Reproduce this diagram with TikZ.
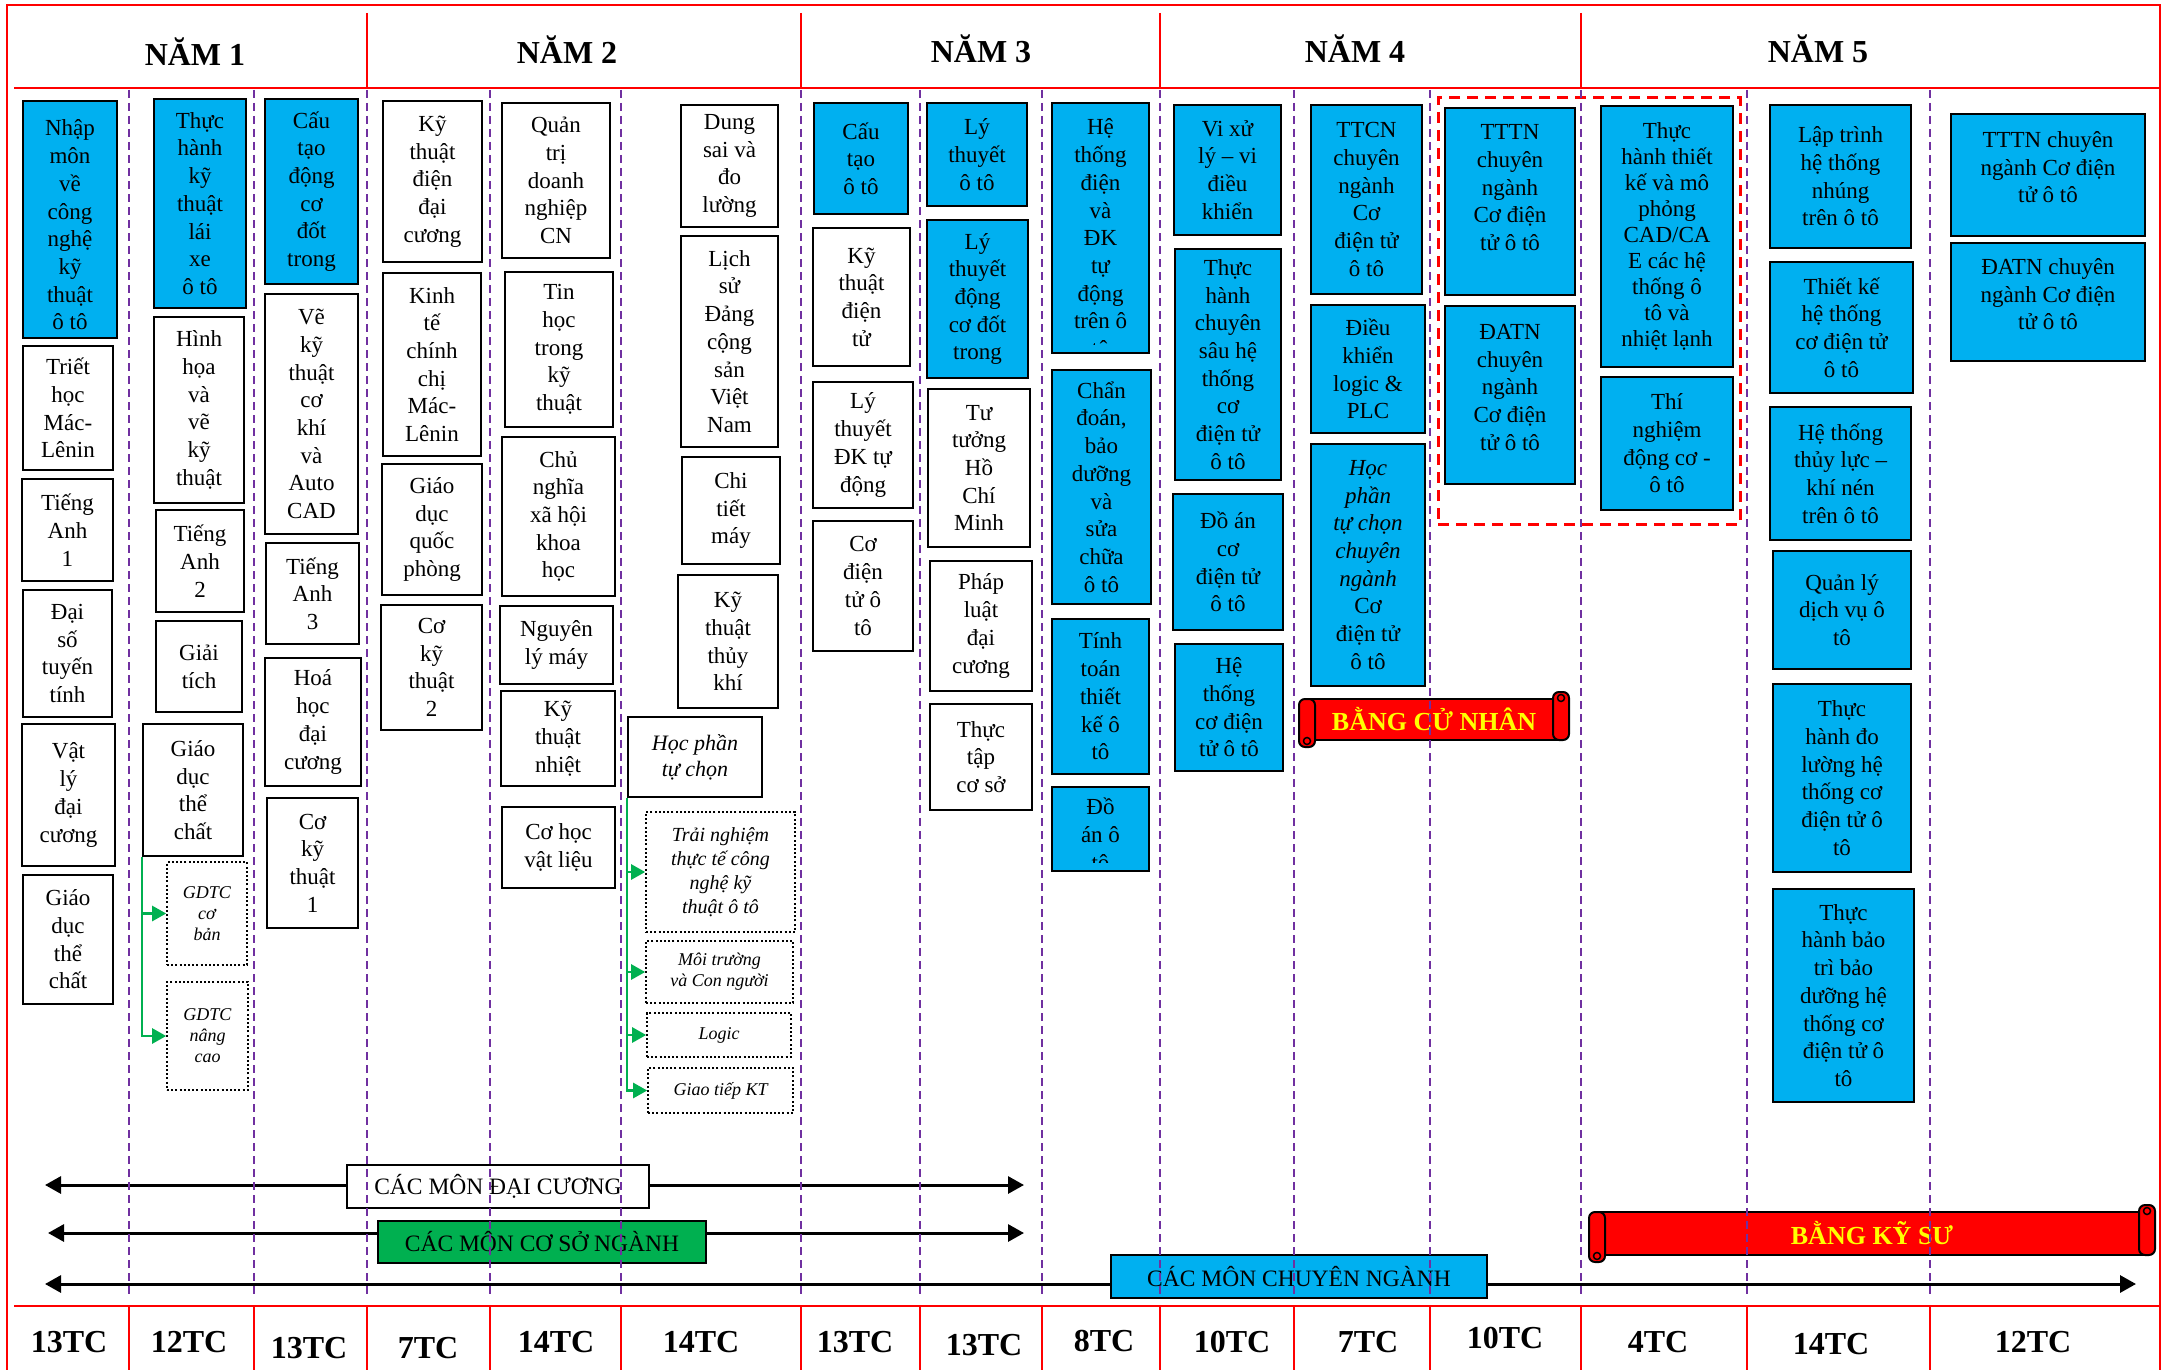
\documentclass[tikz,border=0pt]{standalone}
\usepackage{fontspec}
\setmainfont{Liberation Serif}
\usetikzlibrary{arrows.meta,calc}
\definecolor{cblue}{HTML}{00B0F0}
\definecolor{cgreen}{HTML}{00B050}
\definecolor{cpurple}{HTML}{7030A0}
\definecolor{cred}{HTML}{FF0000}
\definecolor{cyel}{HTML}{FFFF00}
\newcommand{\bx}[7]{\node[#6, minimum width={(#4)-(#2)}, minimum height={(#5)-(#3)}] (#1) at ({((#2)+(#4))/2},{((#3)+(#5))/2}) {#7};}
\newcommand{\cbx}[8]{%
  \node[#6, minimum width={(#4)-(#2)}, minimum height={(#5)-(#3)}] (#1) at ({((#2)+(#4))/2},{((#3)+(#5))/2}) {};
  \begin{scope}
    \clip ($(#1.north west)+(3,3)$) rectangle ($(#1.south east)+(-3,-10)$);
    \node[txt, anchor=north, inner sep=0pt] (#1t) at ($(#1.north)+(0,#8)$) {#7};
  \end{scope}}
\newcommand{\ribbon}[6]{%
  \node[draw=black, line width=2pt, fill=cred, inner sep=0pt, rtext,
        minimum width={(#4)-(#2)-16}, minimum height={(#5)-(#3)-14}]
        (#1) at ({((#2)+(#4))/2},{((#3)+(#5))/2}) {#6};
  \draw[draw=black, line width=2pt, fill=cred, rounded corners=6pt] (#2,{(#3)+7}) rectangle ({(#2)+16},#5);
  \draw[draw=black, line width=2pt, fill=cred, rounded corners=6pt] ({(#4)-16},#3) rectangle (#4,{(#5)-7});
  \draw[draw=black, line width=1.5pt] ({(#4)-8},{(#3)+6}) circle (3.5);
  \draw[draw=black, line width=1.5pt] ({(#2)+8},{(#5)-6}) circle (3.5);}
\begin{document}
\begin{tikzpicture}[x=1pt,y=-1pt,
  base/.style={draw=black, line width=2.5pt, align=center, inner sep=0pt, font=\fontsize{23}{27.7}\selectfont},
  wbox/.style={base, fill=white},
  bbox/.style={base, fill=cblue},
  hbox/.style={base, fill=white, font=\itshape\fontsize{22}{26}\selectfont},
  dbox/.style={draw=black, line width=1.6pt, dash pattern=on 2pt off 2.2pt, fill=white, align=center, inner sep=0pt, font=\itshape\fontsize{18}{21}\selectfont},
  tnfont/.style={font=\itshape\fontsize{20}{24}\selectfont},
  txt/.style={align=center, font=\fontsize{23}{27.7}\selectfont},
  hdr/.style={font=\bfseries\fontsize{32}{38}\selectfont, inner sep=0pt},
  tc/.style={font=\bfseries\fontsize{32}{38}\selectfont, inner sep=0pt},
  barbox/.style={draw=black, line width=2.5pt, inner sep=0pt, font=\fontsize{23.5}{28}\selectfont},
  rtext/.style={text=cyel, font=\bfseries\fontsize{26}{30}\selectfont},
  garr/.style={draw=cgreen, line width=2.5pt, -{Triangle[length=14pt,width=15pt]}},
  bigarr/.style={draw=black, line width=3pt, {Triangle[length=16pt,width=17pt]}-{Triangle[length=16pt,width=17pt]}},
  pdash/.style={draw=cpurple, line width=2pt, dash pattern=on 8pt off 5pt},
  frame/.style={draw=cred, line width=2.5pt},
  thinred/.style={draw=cred, line width=1.5pt},
  rdash/.style={draw=cred, line width=3pt, dash pattern=on 11pt off 7pt}]
\useasboundingbox (0,0) rectangle (2163,1370);
\fill[white] (0,0) rectangle (2163,1370);
% frame
\draw[frame] (7,1370) -- (7,5) -- (2160,5) -- (2160,1370);
\draw[frame] (14,88) -- (2160,88);
\draw[frame] (14,1306) -- (2160,1306);
\foreach \xx in {367,801,1160,1581} \draw[thinred] (\xx,13) -- (\xx,88);
\foreach \xx in {129,254,367,490,621,801,920,1042,1160,1294,1430,1581,1747,1930} \draw[thinred] (\xx,1306) -- (\xx,1370);
% headers
\node[hdr] (y1) at (195,52) {NĂM 1};
\node[hdr] (y2) at (567,50) {NĂM 2};
\node[hdr] (y3) at (981,49) {NĂM 3};
\node[hdr] (y4) at (1355,49) {NĂM 4};
\node[hdr] (y5) at (1818,49) {NĂM 5};
% credits
\node[tc] (t1) at (69,1342) {13TC};
\node[tc] (t2) at (189,1342) {12TC};
\node[tc] (t3) at (309,1348) {13TC};
\node[tc] (t4) at (428,1348) {7TC};
\node[tc] (t5) at (556,1342) {14TC};
\node[tc] (t6) at (701,1342) {14TC};
\node[tc] (t7) at (855,1342) {13TC};
\node[tc] (t8) at (984,1345) {13TC};
\node[tc] (t9) at (1104,1341) {8TC};
\node[tc] (t10) at (1232,1342) {10TC};
\node[tc] (t11) at (1368,1342) {7TC};
\node[tc] (t12) at (1505,1338) {10TC};
\node[tc] (t13) at (1658,1342) {4TC};
\node[tc] (t14) at (1831,1344) {14TC};
\node[tc] (t15) at (2033,1342) {12TC};
% red dashed group
\bx{grp}{1438}{98}{1740}{524}{rdash}{}
% Year 1
\cbx{A1}{23}{101}{117}{338}{bbox}{Nhập\\môn\\về\\công\\nghệ\\kỹ\\thuật\\ô tô}{20}
\bx{A2}{23}{346}{113}{470}{wbox}{Triết\\học\\Mác-\\Lênin}
\bx{A3}{22}{479}{113}{581}{wbox}{Tiếng\\Anh\\1}
\bx{A4}{23}{590}{112}{717}{wbox}{Đại\\số\\tuyến\\tính}
\bx{A5}{22}{724}{115}{866}{wbox}{Vật\\lý\\đại\\cương}
\bx{A6}{23}{875}{113}{1004}{wbox}{Giáo\\dục\\thể\\chất}
\bx{B1}{154}{99}{246}{308}{bbox}{Thực\\hành\\kỹ\\thuật\\lái\\xe\\ô tô}
\bx{B2}{154}{317}{244}{503}{wbox}{Hình\\họa\\và\\vẽ\\kỹ\\thuật}
\bx{B3}{156}{510}{244}{612}{wbox}{Tiếng\\Anh\\2}
\bx{B4}{156}{621}{242}{712}{wbox}{Giải\\tích}
\bx{B5}{143}{724}{243}{856}{wbox}{Giáo\\dục\\thể\\chất}
\bx{B6}{167}{862}{247}{965}{dbox}{GDTC\\cơ\\bản}
\bx{B7}{167}{982}{248}{1090}{dbox}{GDTC\\nâng\\cao}
\bx{C1}{265}{99}{358}{284}{bbox}{Cấu\\tạo\\động\\cơ\\đốt\\trong}
\bx{C2}{265}{294}{358}{534}{wbox}{Vẽ\\kỹ\\thuật\\cơ\\khí\\và\\Auto\\CAD}
\bx{C3}{266}{543}{359}{644}{wbox}{Tiếng\\Anh\\3}
\bx{C4}{265}{658}{361}{786}{wbox}{Hoá\\học\\đại\\cương}
\bx{C5}{267}{798}{358}{928}{wbox}{Cơ\\kỹ\\thuật\\1}
% Year 2
\bx{D1}{383}{101}{482}{262}{wbox}{Kỹ\\thuật\\điện\\đại\\cương}
\bx{D2}{383}{273}{481}{456}{wbox}{Kinh\\tế\\chính\\chị\\Mác-\\Lênin}
\bx{D3}{382}{464}{482}{595}{wbox}{Giáo\\dục\\quốc\\phòng}
\bx{D4}{381}{605}{482}{730}{wbox}{Cơ\\kỹ\\thuật\\2}
\bx{E1}{502}{103}{610}{258}{wbox}{Quản\\trị\\doanh\\nghiệp\\CN}
\bx{E2}{505}{272}{613}{427}{wbox}{Tin\\học\\trong\\kỹ\\thuật}
\bx{E3}{502}{437}{615}{596}{wbox}{Chủ\\nghĩa\\xã hội\\khoa\\học}
\bx{E4}{500}{606}{613}{684}{wbox}{Nguyên\\lý máy}
\bx{E5}{501}{691}{615}{786}{wbox}{Kỹ\\thuật\\nhiệt}
\bx{E6}{502}{807}{615}{888}{wbox}{Cơ học\\vật liệu}
\bx{F1}{681}{105}{778}{227}{wbox}{Dung\\sai và\\đo\\lường}
\bx{F2}{681}{236}{778}{447}{wbox}{Lịch\\sử\\Đảng\\cộng\\sản\\Việt\\Nam}
\bx{F3}{682}{457}{780}{564}{wbox}{Chi\\tiết\\máy}
\bx{F4}{678}{575}{778}{708}{wbox}{Kỹ\\thuật\\thủy\\khí}
\bx{F5}{628}{717}{762}{797}{hbox}{Học phần\\tự chọn}
\bx{F6}{646}{812}{795}{932}{dbox,tnfont}{Trải nghiệm\\thực tế công\\nghệ kỹ\\thuật ô tô}
\bx{F7}{646}{941}{793}{1003}{dbox}{Môi trường\\và Con người}
\bx{F8}{647}{1013}{791}{1057}{dbox}{Logic}
\bx{F9}{648}{1068}{793}{1113}{dbox}{Giao tiếp KT}
% Year 3
\bx{G1}{814}{103}{908}{214}{bbox}{Cấu\\tạo\\ô tô}
\bx{G2}{813}{228}{910}{366}{wbox}{Kỹ\\thuật\\điện\\tử}
\bx{G3}{813}{382}{913}{508}{wbox}{Lý\\thuyết\\ĐK tự\\động}
\bx{G4}{813}{521}{913}{651}{wbox}{Cơ\\điện\\tử ô\\tô}
\bx{H1}{927}{103}{1027}{206}{bbox}{Lý\\thuyết\\ô tô}
\bx{H2}{927}{220}{1028}{378}{bbox}{Lý\\thuyết\\động\\cơ đốt\\trong}
\bx{H3}{928}{389}{1030}{547}{wbox}{Tư\\tưởng\\Hồ\\Chí\\Minh}
\bx{H4}{930}{561}{1032}{691}{wbox}{Pháp\\luật\\đại\\cương}
\bx{H5}{930}{704}{1032}{810}{wbox}{Thực\\tập\\cơ sở}
\cbx{I1}{1052}{103}{1149}{353}{bbox}{Hệ\\thống\\điện\\và\\ĐK\\tự\\động\\trên ô\\tô}{17}
\bx{I2}{1052}{370}{1151}{604}{bbox}{Chẩn\\đoán,\\bảo\\dưỡng\\và\\sửa\\chữa\\ô tô}
\bx{I3}{1052}{619}{1149}{774}{bbox}{Tính\\toán\\thiết\\kế ô\\tô}
\cbx{I4}{1052}{787}{1149}{871}{bbox}{Đồ\\án ô\\tô}{12}
% Year 4
\bx{J1}{1174}{105}{1281}{235}{bbox}{Vi xử\\lý – vi\\điều\\khiển}
\bx{J2}{1175}{249}{1281}{480}{bbox}{Thực\\hành\\chuyên\\sâu hệ\\thống\\cơ\\điện tử\\ô tô}
\bx{J3}{1173}{494}{1283}{630}{bbox}{Đồ án\\cơ\\điện tử\\ô tô}
\bx{J4}{1175}{644}{1283}{771}{bbox}{Hệ\\thống\\cơ điện\\tử ô tô}
\bx{K1}{1311}{105}{1422}{294}{bbox}{TTCN\\chuyên\\ngành\\Cơ\\điện tử\\ô tô}
\bx{K2}{1311}{305}{1425}{433}{bbox}{Điều\\khiển\\logic \&\\PLC}
\bx{K3}{1311}{444}{1425}{686}{bbox}{\textit{Học}\\\textit{phần}\\\textit{tự chọn}\\\textit{chuyên}\\\textit{ngành}\\Cơ\\điện tử\\ô tô}
\bx{L1}{1445}{108}{1575}{295}{bbox}{TTTN\\chuyên\\ngành\\Cơ điện\\tử ô tô\\\mbox{}}
\bx{L2}{1445}{306}{1575}{484}{bbox}{ĐATN\\chuyên\\ngành\\Cơ điện\\tử ô tô\\[-12pt]\mbox{}}
\ribbon{R1}{1299}{692}{1569}{747}{BẰNG CỬ NHÂN}
% Year 5
\bx{M1}{1601}{106}{1733}{367}{bbox,font=\fontsize{23}{26}\selectfont}{Thực\\hành thiết\\kế và mô\\phỏng\\CAD/CA\\E các hệ\\thống ô\\tô và\\nhiệt lạnh}
\bx{M2}{1601}{377}{1733}{510}{bbox}{Thí\\nghiệm\\động cơ -\\ô tô}
\bx{N1}{1770}{105}{1911}{248}{bbox}{Lập trình\\hệ thống\\nhúng\\trên ô tô}
\bx{N2}{1770}{262}{1913}{393}{bbox}{Thiết kế\\hệ thống\\cơ điện tử\\ô tô}
\bx{N3}{1770}{407}{1911}{540}{bbox}{Hệ thống\\thủy lực –\\khí nén\\trên ô tô}
\bx{N4}{1773}{551}{1911}{669}{bbox}{Quản lý\\dịch vụ ô\\tô}
\bx{N5}{1773}{684}{1911}{872}{bbox}{Thực\\hành đo\\lường hệ\\thống cơ\\điện tử ô\\tô}
\bx{N6}{1773}{889}{1914}{1102}{bbox}{Thực\\hành bảo\\trì bảo\\dưỡng hệ\\thống cơ\\điện tử ô\\tô}
\bx{O1}{1951}{114}{2145}{236}{bbox}{TTTN chuyên\\ngành Cơ điện\\tử ô tô\\[-12pt]\mbox{}}
\bx{O2}{1951}{243}{2145}{361}{bbox}{ĐATN chuyên\\ngành Cơ điện\\tử ô tô\\[-12pt]\mbox{}}
% green connectors
\draw[garr] (B5.south west) |- (B6.west);
\draw[garr] (B5.south west) |- (B7.west);
\draw[garr] (F5.south west) |- (F6.west);
\draw[garr] (F5.south west) |- (F7.west);
\draw[garr] (F5.south west) |- (F8.west);
\draw[garr] (F5.south west) |- (F9.west);
% bottom bars
\coordinate (a1l) at (45,1185);
\coordinate (a1r) at (1024,1185);
\draw[bigarr] (a1l) -- (a1r);
\bx{S1}{347}{1165}{649}{1208}{barbox, fill=white}{CÁC MÔN ĐẠI CƯƠNG}
\coordinate (a2l) at (48,1233);
\coordinate (a2r) at (1024,1233);
\draw[bigarr] (a2l) -- (a2r);
\bx{S2}{378}{1221}{706}{1263}{barbox, fill=cgreen}{CÁC MÔN CƠ SỞ NGÀNH}
\coordinate (a3l) at (45,1284);
\coordinate (a3r) at (2136,1284);
\draw[bigarr] (a3l) -- (a3r);
\bx{S3}{1111}{1255}{1487}{1298}{barbox, fill=cblue}{CÁC MÔN CHUYÊN NGÀNH}
\ribbon{R2}{1589}{1205}{2155}{1262}{BẰNG KỸ SƯ}
% purple semester dividers
\foreach \xx in {129,254,367,490,621,801,920,1042,1160,1294,1430,1581,1747,1930} \draw[pdash] (\xx,90) -- (\xx,1298);
\end{tikzpicture}
\end{document}
